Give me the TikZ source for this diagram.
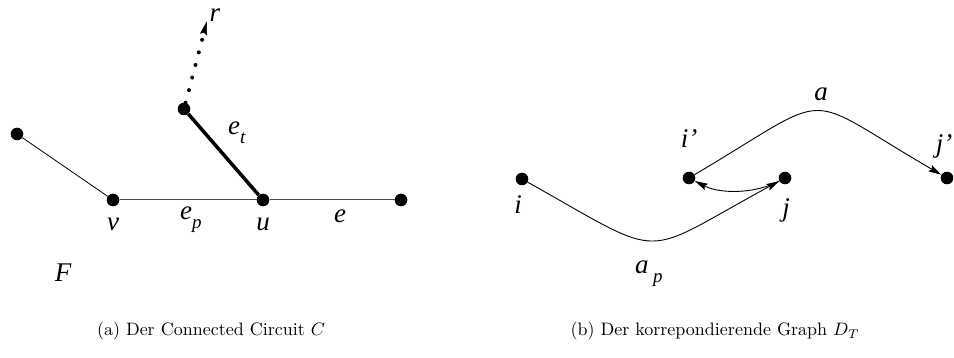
\documentclass[tikz,border=0pt]{standalone}
\usepackage{fontspec}
\newfontfamily\tms{Liberation Serif}
\usetikzlibrary{arrows.meta}
\begin{document}
\begin{tikzpicture}[x=1pt,y=-1pt,
  dot/.style={circle,fill=black,inner sep=0pt,minimum size=12.6pt},
  lbl/.style={font=\tms\itshape\fontsize{27}{29}\selectfont,inner sep=0pt,anchor=base},
  lblw/.style={lbl,anchor=base west},
  captxt/.style={font=\fontsize{10}{12}\selectfont,inner sep=0pt,anchor=base,scale=1.8},
  arr/.style={-{Stealth[length=13pt,width=7pt,inset=2pt]},line width=0.9pt}]
\useasboundingbox (0,0) rectangle (954,358);
% left figure
\node[dot] (l) at (17,134) {};
\node[dot] (v) at (113,200) {};
\node[dot] (u) at (263,200) {};
\node[dot] (w) at (401,200) {};
\node[dot] (t) at (184,109) {};
\coordinate (r) at (207,21);
\draw[line width=0.8pt] (l) -- (v);
\draw[line width=1pt,black!70] (v) -- (u);
\draw[line width=1pt,black!70] (u) -- (w);
\draw[line width=3.5pt] (t) -- (u);
\draw[line width=4pt,line cap=round,dash pattern=on 0pt off 13pt,
  -{Stealth[length=14pt,width=7pt,inset=2pt,line width=0.5pt]}] (t) -- (r);
\node[lbl] (lv) at (113,231) {v};
\node[lbl] (lu) at (263,231) {u};
\node[lbl] (le) at (340,223) {e};
\node[lblw] (lep) at (180,220) {e\raisebox{-0.3em}{\fontsize{19}{20}\selectfont p}};
\node[lblw] (let) at (228,135) {e\raisebox{-0.3em}{\fontsize{19}{20}\selectfont t}};
\node[lbl] (lr) at (215,22) {r};
\node[lbl] (lF) at (63,282) {F};
% right figure
\node[dot] (i) at (522,179) {};
\node[dot] (ip) at (689,178) {};
\node[dot] (j) at (785,178) {};
\node[dot] (jp) at (947,178) {};
\draw[arr] (i) .. controls (670,262) and (637,258) .. (j);
\draw[arr] (ip) .. controls (839,89) and (797,91) .. (jp);
\draw[arr] (j) .. controls (755,194) and (720,194) .. (ip);
\node[lbl] (li) at (518,214) {i};
\node[lbl] (lip) at (689,148) {i’};
\node[lbl] (lj) at (786,217) {j};
\node[lbl] (ljp) at (944,153) {j’};
\node[lbl] (la) at (821,101) {a};
\node[lblw] (lap) at (635,274) {a\,\raisebox{-0.3em}{\fontsize{19}{20}\selectfont p}};
% captions
\node[captxt] (ca) at (211,336) {(a) Der Connected Circuit $C$};
\node[captxt] (cb) at (715,336) {(b) Der korrepondierende Graph $D_T$};
\end{tikzpicture}
\end{document}
